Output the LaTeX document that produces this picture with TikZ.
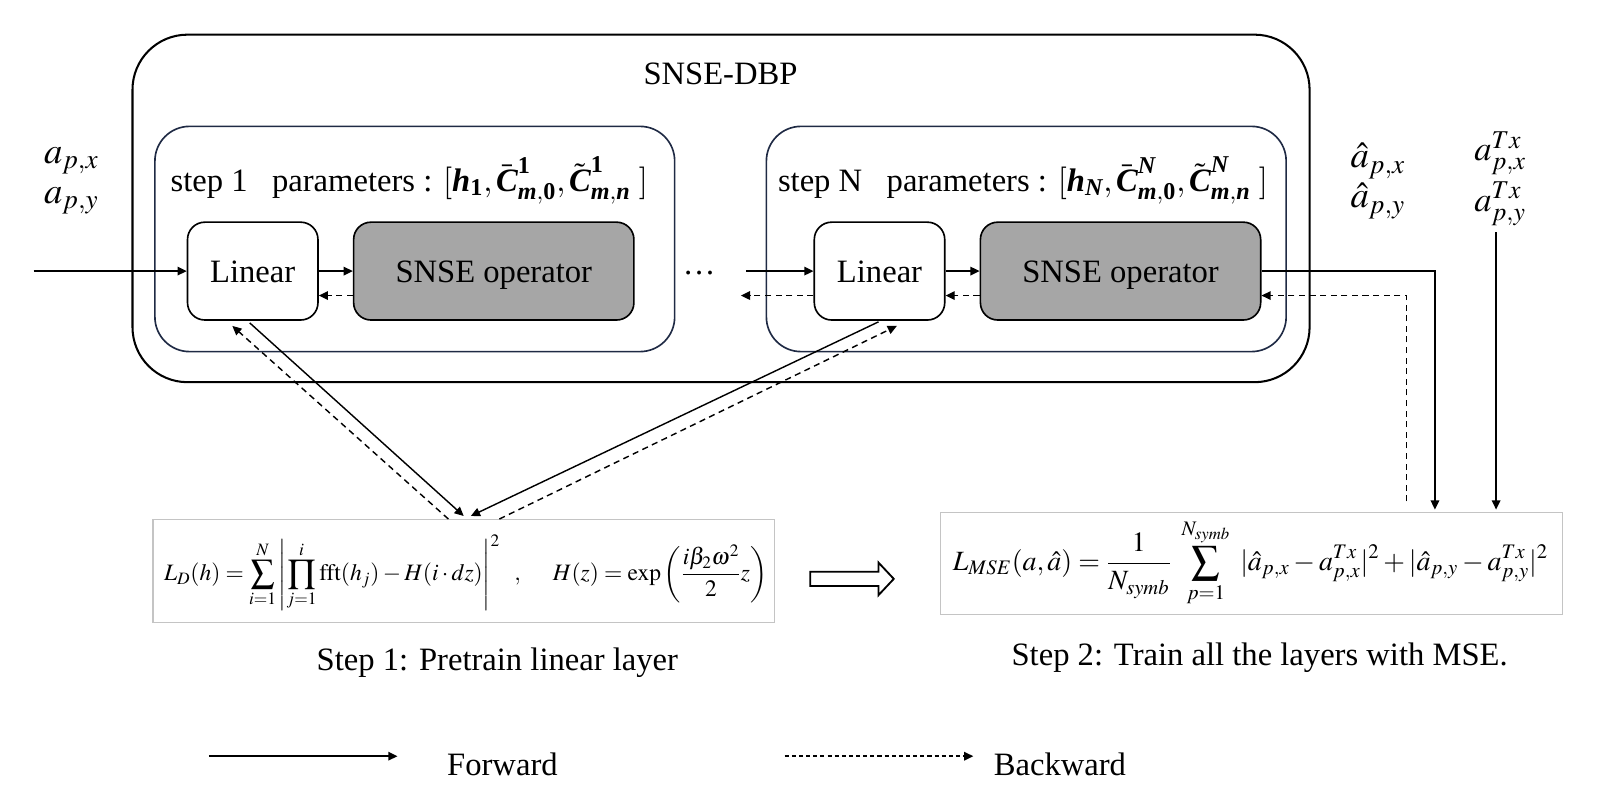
\documentclass[tikz,border=0pt]{standalone}
\usepackage{amsmath}
\usepackage{mathptmx}
\usepackage{fontspec}
\setmainfont{Liberation Serif}
\usetikzlibrary{arrows.meta,calc}
\definecolor{navy}{HTML}{1F2A44}
\definecolor{opgray}{HTML}{A6A6A6}
\definecolor{fbox}{HTML}{C4C4C4}
\newcommand{\bitx}[1]{\text{\bfseries\itshape #1}}
\newcommand{\bupx}[1]{\text{\bfseries #1}}
\begin{document}
\begin{tikzpicture}[x=0.5pt,y=-0.5pt,
  font=\fontsize{16}{19}\selectfont,
  fwd/.style={-{Triangle[length=4.5pt,width=4.2pt]}, line width=0.7pt},
  bwd/.style={fwd, dash pattern=on 3pt off 2.2pt},
  outerbox/.style={draw, line width=1pt, rounded corners=27pt, inner sep=0pt},
  stepbox/.style={draw=navy, line width=0.8pt, rounded corners=17pt, inner sep=0pt, minimum width=255pt, minimum height=110.5pt},
  linbox/.style={draw, fill=white, line width=0.8pt, rounded corners=8.5pt, inner sep=0pt, minimum width=64pt, minimum height=48pt, text height=11pt, text depth=0pt},
  opbox/.style={draw, fill=opgray, line width=0.8pt, rounded corners=8.5pt, inner sep=0pt, minimum width=137.5pt, minimum height=48pt, text height=11pt, text depth=0pt},
  formbox/.style={draw=fbox, line width=0.7pt, inner sep=0pt},
  lbl/.style={font=\fontsize{18}{20}\selectfont, inner sep=0pt}
]
\useasboundingbox (0,0) rectangle (1568,793);

% outer container
\node[outerbox, minimum width=577.5pt, minimum height=170.5pt] (dbp) at (707.5,204.5) {};
\node (title) at (707,72) {SNSE-DBP};

% step boxes
\node[stepbox] (s1) at (407,234.5) {};
\node[stepbox] (sN) at (1007,234.5) {};

\node[anchor=west, inner sep=0pt] (p1) at (167,177) {step 1\hspace{12pt}parameters : $[\bitx{h}_{\bupx{1}}, \bar{\bitx{C}}^{\bupx{1}}_{\bitx{m},\bupx{0}}, \tilde{\bitx{C}}^{\bupx{1}}_{\bitx{m},\bitx{n}}\ ]$};
\node[anchor=west, inner sep=0pt] (pN) at (763,177) {step N\hspace{12pt}parameters : $[\bitx{h}_{\bitx{N}}, \bar{\bitx{C}}^{\bitx{N}}_{\bitx{m},\bupx{0}}, \tilde{\bitx{C}}^{\bitx{N}}_{\bitx{m},\bitx{n}}\ ]$};

% blocks
\node[linbox] (lin1) at (248,266) {Linear};
\node[opbox] (op1) at (484.5,266) {SNSE operator};
\node[linbox] (linN) at (863,266) {Linear};
\node[opbox] (opN) at (1099.5,266) {SNSE operator};
\node (dots) at (686,268) {\ldots};

% labels
\node[lbl] (ax) at (70,158) {$a_{p,x}$};
\node[lbl] (ay) at (70,197) {$a_{p,y}$};
\node[lbl] (hx) at (1352,158) {$\hat{a}_{p,x}$};
\node[lbl] (hy) at (1352,197) {$\hat{a}_{p,y}$};
\node[lbl, font=\fontsize{17}{19}\selectfont] (tx) at (1472,150) {$a^{Tx}_{p,x}$};
\node[lbl, font=\fontsize{17}{19}\selectfont] (ty) at (1472,200) {$a^{Tx}_{p,y}$};

% formula boxes
\node[formbox, minimum width=305pt, minimum height=50.5pt] (ld) at (455,560.5) {};
\node[inner sep=0pt] (ldf) at (457,562) {\resizebox{296pt}{!}{$\displaystyle L_D(h)=\sum_{i=1}^{N}\left|\prod_{j=1}^{i}\mathrm{fft}(h_j)-H(i\cdot dz)\right|^{2}\ \ ,\quad\ H(z)=\exp\left(\frac{i\beta_2\omega^2}{2}z\right)$}};
\node[formbox, minimum width=305pt, minimum height=50pt] (mse) at (1228,553) {};
\node[inner sep=0pt] (msef) at (1227,552) {\resizebox{292pt}{!}{$\displaystyle L_{MSE}(a,\hat{a})=\frac{1}{N_{symb}}\ \sum_{p=1}^{N_{symb}}\ |\hat{a}_{p,x}-a^{Tx}_{p,x}|^2+|\hat{a}_{p,y}-a^{Tx}_{p,y}|^2$}};

% captions
\node (cap1) at (488,650) {Step 1: Pretrain linear layer};
\node (cap2) at (1236,645) {Step 2: Train all the layers with MSE.};

% coordinates
\coordinate (in) at (33,266);
\coordinate (m1) at (732,266);
\coordinate (m2) at (727,290);
\coordinate (o1) at (1408,500);
\coordinate (t1) at (1468,228);
\coordinate (t2) at (1468,500);
\coordinate (b1) at (1380,492);

% forward / backward in chain
\draw[fwd] (in) -- (lin1.west);
\draw[fwd] (lin1.east) -- (op1.west);
\draw[bwd] ($(op1.west)+(0,24)$) -- ($(lin1.east)+(0,24)$);
\draw[fwd] (m1) -- (linN.west);
\draw[bwd] ($(linN.west)+(0,24)$) -- (m2);
\draw[fwd] (linN.east) -- (opN.west);
\draw[bwd] ($(opN.west)+(0,24)$) -- ($(linN.east)+(0,24)$);

% output side
\draw[fwd] (opN.east) -| (o1);
\draw[fwd] (t1) -- (t2);
\draw[bwd] (b1) |- ($(opN.east)+(0,24)$);

% diagonals
\draw[fwd] ($(lin1.south)+(-3,2)$) -- ($(ld.north)+(0,-3)$);
\draw[bwd] ($(ld.north)+(-15,0)$) -- ($(lin1.south)+(-20,5)$);
\draw[fwd] ($(linN.south)+(-1,1)$) -- ($(ld.north)+(7,-3)$);
\draw[bwd] ($(ld.north)+(35,0)$) -- ($(linN.south)+(17,5)$);

% hollow arrow
\draw[line width=0.9pt, fill=white] (795,561) -- (862,561) -- (862,552) -- (877,568) -- (862,584) -- (862,575) -- (795,575) -- cycle;

% legend
\coordinate (lf1) at (205,742);
\coordinate (lf2) at (390,742);
\coordinate (lb1) at (770,742);
\coordinate (lb2) at (955,742);
\draw[fwd] (lf1) -- (lf2);
\node (fw) at (493,750) {Forward};
\draw[fwd, dash pattern=on 2pt off 1.5pt] (lb1) -- (lb2);
\node (bw) at (1040,750) {Backward};
\end{tikzpicture}
\end{document}
